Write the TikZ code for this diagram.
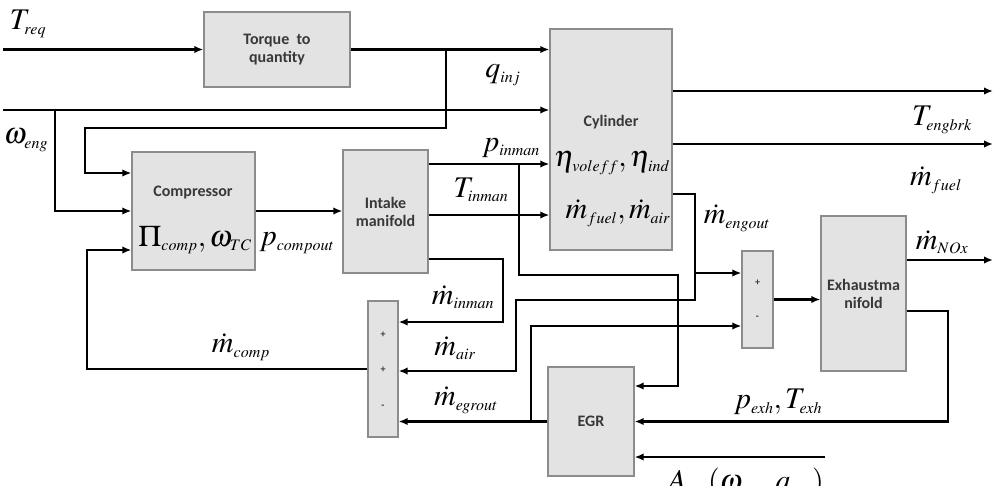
\documentclass[tikz,border=0pt]{standalone}
\usepackage{mathptmx}
\usepackage[no-math]{fontspec}
\setsansfont{Carlito}
\DeclareMathSizes{30}{30}{16}{12}
\usetikzlibrary{arrows.meta,positioning}

\begin{document}
\begin{tikzpicture}[
  x=1pt, y=-1pt,
  every node/.style = {font=\fontsize{16}{18}\selectfont\sffamily\bfseries, text=black!78},
  block/.style = {rectangle, draw=black!45, line width=1.3pt, fill=black!11,
    align=center, inner sep=0pt},
  sig/.style = {font=\fontsize{30}{32}\selectfont, text=black, inner sep=0pt},
  sgn/.style = {font=\fontsize{10}{10}\selectfont\sffamily\bfseries, inner sep=0pt},
  wire/.style = {line width=2.8pt},
  arr/.style = {wire, -{Latex[length=9pt,width=7.5pt]}}
]
\useasboundingbox (0,0) rectangle (995,485);

% blocks
\node[block, minimum width=146pt, minimum height=75pt]  (tq)    at (277,49.5)   {Torque\ \ to\\quantity};
\node[block, minimum width=122pt, minimum height=221pt] (cyl)   at (611,139.5)  {};
\node[block, minimum width=123pt, minimum height=118pt] (comp)  at (193.5,211)  {};
\node[block, minimum width=85pt,  minimum height=123pt] (inman) at (385.5,211.5) {Intake\\manifold};
\node[block, minimum width=30pt,  minimum height=136pt] (sumin) at (383,369)    {};
\node[block, minimum width=31pt,  minimum height=97pt]  (sumex) at (757.5,299.5) {};
\node[block, minimum width=85pt,  minimum height=155pt] (exman) at (863.5,293.5) {Exhaustma\\nifold};
\node[block, minimum width=86pt,  minimum height=109pt] (egr)   at (591,421.5)  {EGR};

% texts inside blocks
\node (cyltxt)  at (611,122) {Cylinder};
\node (comptxt) at (193,193) {Compressor};
\node[sgn] (sa1) at (383,335) {+};
\node[sgn] (sa2) at (383,370) {+};
\node[sgn] (sa3) at (383,407) {-};
\node[sgn] (sb1) at (757.5,283) {+};
\node[sgn] (sb2) at (757.5,318) {-};

% free ends
\coordinate (treq) at (3,49.5);
\coordinate (weng) at (3,110);
\coordinate (qj)   at (446,49.5);
\coordinate (wj)   at (55,110);
\coordinate (pj)   at (519,164);
\coordinate (mj)   at (695,273);
\coordinate (ej)   at (531,421.5);
\coordinate (tout) at (993,91);
\coordinate (fout) at (993,144);
\coordinate (nout) at (993,260);
\coordinate (ain)  at (825,457);

% connectors
\draw[arr] (treq) -- (tq.west);
\draw[arr] (tq.east) -- (tq.east -| cyl.west);
\draw[arr] (qj) |- (85,128) |- ([yshift=38pt]comp.west);
\draw[arr] (weng) -- (weng -| cyl.west);
\draw[arr] (wj) |- (comp.west);
\draw[arr] (comp.east) -- (comp.east -| inman.west);
\draw[arr] ([yshift=47.5pt]inman.east) -- ([yshift=47.5pt]inman.east -| cyl.west);
\draw[arr] ([yshift=-3.5pt]inman.east) -- ([yshift=-3.5pt]inman.east -| cyl.west);
\draw[arr] (pj) |- (678,275) |- ([yshift=35.5pt]egr.east);
\draw[arr] ([yshift=-47.5pt]inman.east) -| (503,322) -- ([yshift=47pt]sumin.east);
\draw[arr] ([yshift=48.5pt]cyl.east) -- (tout);
\draw[arr] ([yshift=-4.5pt]cyl.east) -- (fout);
\draw[arr] ([yshift=-54.5pt]cyl.east) -| (695,300) -| (516,371) -- ([yshift=-2pt]sumin.east);
\draw[arr] (mj) -- ([yshift=26.5pt]sumex.west);
\draw[arr] (egr.west) -- (egr.west -| sumin.east);
\draw[arr] (ej) |- ([yshift=-26.5pt]sumex.west);
\draw[arr] (sumex.east) -- (sumex.east -| exman.west);
\draw[arr] ([yshift=33.5pt]exman.east) -- (nout);
\draw[arr] ([yshift=-17.5pt]exman.east) -| (948,421.5) -- (egr.east);
\draw[arr] (ain) -- ([yshift=-35.5pt]egr.east);
\draw[arr] (sumin.west) -| (87,250) -- ([yshift=-39pt]comp.west);

% signal labels
\node[sig] (lTreq)  at (28,24)   {$T_{req}$};
\node[sig] (lweng)  at (26,140)  {$\omega_{eng}$};
\node[sig] (lqinj)  at (503,75)  {$q_{inj}$};
\node[sig] (lpin)   at (511,148) {$p_{inman}$};
\node[sig] (lTin)   at (481,190) {$T_{inman}$};
\node[sig] (leta)   at (612,163) {$\eta_{voleff},\eta_{ind}$};
\node[sig] (lmcyl)  at (618,213) {$\dot m_{fuel},\dot m_{air}$};
\node[sig] (lpi)    at (195,240) {$\Pi_{comp},\omega_{TC}$};
\node[sig] (lpco)   at (297,243) {$p_{compout}$};
\node[sig] (lmin)   at (463,297) {$\dot m_{inman}$};
\node[sig] (lmair)  at (455,348) {$\dot m_{air}$};
\node[sig] (lmegr)  at (466,400) {$\dot m_{egrout}$};
\node[sig] (lmcomp) at (241,347) {$\dot m_{comp}$};
\node[sig] (lmeng)  at (737,218) {$\dot m_{engout}$};
\node[sig] (lTbrk)  at (942,120) {$T_{engbrk}$};
\node[sig] (lmfuel) at (936,180) {$\dot m_{fuel}$};
\node[sig] (lmnox)  at (942,242) {$\dot m_{NOx}$};
\node[sig] (lpexh)  at (778,402) {$p_{exh},T_{exh}$};
\node[sig, anchor=base west] (laegr) at (668,490) {$A_{egr}(\omega_{eng},a_{egr})$};
\end{tikzpicture}
\end{document}
